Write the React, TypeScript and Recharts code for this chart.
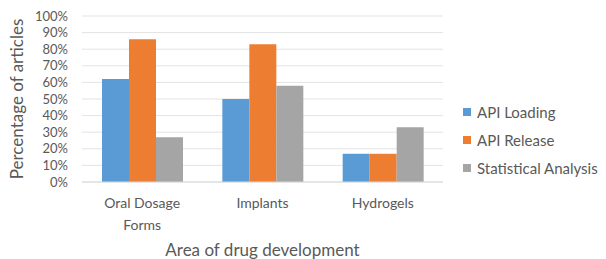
import React from "react";
import { BarChart, Bar, XAxis, YAxis, CartesianGrid, Legend } from "recharts";

const categories = ["Oral Dosage Forms", "Implants", "Hydrogels"];
const apiLoading = [62, 50, 17];
const apiRelease = [86, 83, 17];
const statisticalAnalysis = [27, 58, 33];
const yTicks = [0, 10, 20, 30, 40, 50, 60, 70, 80, 90, 100];

const seriesNames = ["API Loading", "API Release", "Statistical Analysis"];
const seriesColors = ["#5B9BD5", "#ED7D31", "#A5A5A5"];

const data = categories.map((c, i) => ({
  name: c,
  loading: apiLoading[i],
  release: apiRelease[i],
  stats: statisticalAnalysis[i],
}));

const FONT = "Lato, 'Liberation Sans', sans-serif";
const TEXT = "#595959";

const XTick = (props: any) => {
  const { x, y, payload } = props;
  const label: string = payload.value;
  const lines = label === "Oral Dosage Forms" ? ["Oral Dosage", "Forms"] : [label];
  return (
    <g>
      {lines.map((l, i) => (
        <text
          key={i}
          x={x}
          y={y + 18 + i * 22}
          textAnchor="middle"
          fill={TEXT}
          fontSize={14}
          fontFamily={FONT}
        >
          {l}
        </text>
      ))}
    </g>
  );
};

const LegendContent = () => (
  <div style={{ fontFamily: FONT, fontSize: 15, color: TEXT }}>
    {seriesNames.map((n, i) => (
      <div key={n} style={{ display: "flex", alignItems: "center", height: 28 }}>
        <span
          style={{
            display: "inline-block",
            width: 8,
            height: 8,
            background: seriesColors[i],
            marginRight: 6,
          }}
        />
        <span>{n}</span>
      </div>
    ))}
  </div>
);

export default function App() {
  return (
    <div style={{ position: "absolute", left: 0, top: 0, width: 606, height: 259, background: "#fff" }}>
      <BarChart
        width={606}
        height={259}
        data={data}
        margin={{ top: 16, right: 20, bottom: 0, left: 0 }}
        barGap={0}
        barSize={27}
      >
        <CartesianGrid vertical={false} stroke="#E3E3E3" />
        <XAxis
          dataKey="name"
          tick={<XTick />}
          tickLine={false}
          axisLine={{ stroke: "#D9D9D9" }}
          height={77}
          interval={0}
          label={{
            value: "Area of drug development",
            position: "insideBottom",
            offset: 0,
            dy: -3,
            fill: TEXT,
            fontSize: 17,
            fontFamily: FONT,
          }}
        />
        <YAxis
          width={82}
          domain={[0, 100]}
          ticks={yTicks}
          interval={0}
          tickFormatter={(v: number) => `${v}%`}
          tickLine={false}
          axisLine={false}
          tickSize={0}
          tickMargin={14}
          tick={{ fill: TEXT, fontSize: 13, fontFamily: FONT }}
          label={{
            value: "Percentage of articles",
            angle: -90,
            position: "insideLeft",
            dx: 12,
            dy: 0,
            style: { textAnchor: "middle" },
            fill: TEXT,
            fontSize: 17,
            fontFamily: FONT,
          }}
        />
        <Legend
          layout="vertical"
          verticalAlign="top"
          align="right"
          content={<LegendContent />}
          wrapperStyle={{ left: 463, top: 98, width: 143 }}
        />
        <Bar dataKey="loading" name={seriesNames[0]} fill={seriesColors[0]} isAnimationActive={false} />
        <Bar dataKey="release" name={seriesNames[1]} fill={seriesColors[1]} isAnimationActive={false} />
        <Bar dataKey="stats" name={seriesNames[2]} fill={seriesColors[2]} isAnimationActive={false} />
      </BarChart>
    </div>
  );
}
